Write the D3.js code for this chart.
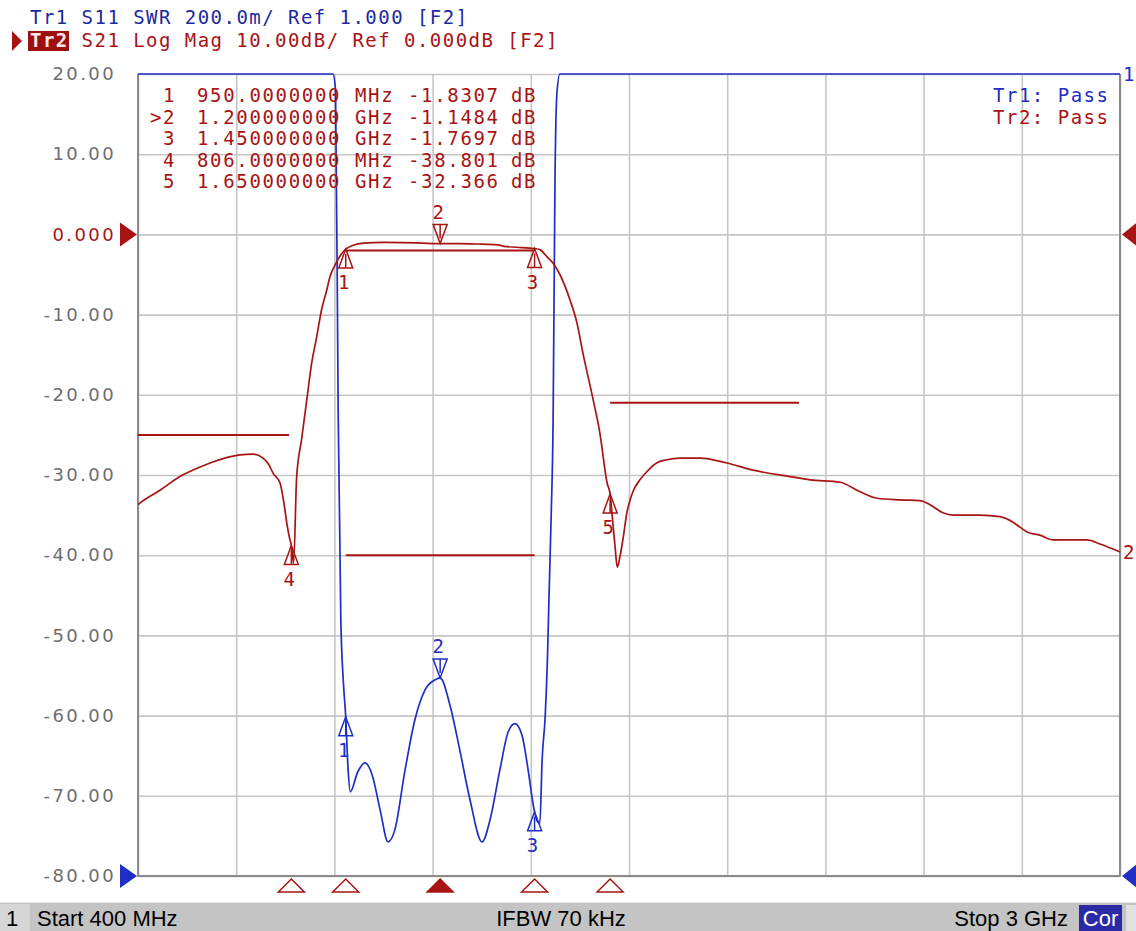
<!DOCTYPE html>
<html>
<head>
<meta charset="utf-8">
<script src="https://cdn.jsdelivr.net/npm/d3@7"></script>
<style>
  body { margin: 0; background: #fff; }
  svg { display: block; }
  .mono { font-family: 'DejaVu Sans Mono', monospace; }
</style>
</head>
<body>
<svg id="chart" width="1136" height="931"></svg>
<script>
// sweep and scale settings
const startMHz = 400
const stopMHz = 3000
const freqTicks = [400, 660, 920, 1180, 1440, 1700, 1960, 2220, 2480, 2740, 3000]
const dbTicks = [20, 10, 0, -10, -20, -30, -40, -50, -60, -70, -80]

// Tr2: S21 log mag (MHz, dB)
const s21Freq = [400, 405, 458, 511, 560, 591, 630, 670, 705, 731, 745, 758, 776, 785, 794, 800, 806, 812, 820,
  833, 847, 860, 873, 886, 900, 908, 922, 935, 950, 970, 996, 1050, 1100, 1150, 1200, 1250, 1300, 1353, 1370,
  1403, 1450, 1464, 1483, 1499, 1517, 1544, 1562, 1578, 1605, 1623, 1642, 1650, 1655, 1663, 1669, 1676, 1685,
  1694, 1703, 1712, 1729, 1747, 1773, 1800, 1835, 1888, 1959, 2029, 2126, 2180, 2259, 2312, 2357, 2418, 2470,
  2497, 2531, 2558, 2629, 2682, 2717, 2735, 2754, 2788, 2823, 2913, 2947, 3000]
const s21Db = [-33.7, -33.5, -31.9, -30.2, -29.1, -28.5, -27.9, -27.5, -27.4, -27.9, -28.6, -29.8, -31.0, -33.1,
  -36.0, -37.6, -38.8, -41.0, -30.3, -25.6, -20.6, -16.0, -12.8, -9.4, -6.9, -5.3, -3.8, -2.7, -1.83, -1.35, -1.1,
  -1.0, -1.02, -1.08, -1.148, -1.15, -1.2, -1.3, -1.5, -1.6, -1.77, -1.9, -2.8, -3.6, -5.0, -8.2, -11.0, -14.8,
  -20.6, -24.8, -31.0, -32.37, -34.8, -38.9, -41.5, -40.2, -37.7, -34.8, -33.1, -31.9, -30.6, -29.6, -28.5, -28.1,
  -27.9, -27.9, -28.5, -29.4, -30.2, -30.6, -30.9, -32.1, -32.9, -33.1, -33.2, -33.7, -34.7, -35.0, -35.0, -35.2,
  -35.9, -36.5, -37.1, -37.5, -38.1, -38.1, -38.6, -39.6]

// Tr1: S11 SWR (MHz, ratio) - values above 3 run off the top of the grid
const s11Freq = [400, 916, 923, 930, 937, 944, 950, 956, 962, 982, 1001, 1020, 1041, 1062, 1080, 1107, 1133,
  1160, 1186, 1200, 1226, 1252, 1279, 1311, 1332, 1358, 1380, 1398, 1417, 1433, 1446, 1450, 1458, 1464, 1470,
  1478, 1484, 1488, 1494, 1499, 1504, 1509, 1517, 3000]
const s11Swr = [9, 9, 2.96, 2.16, 1.64, 1.48, 1.397, 1.27, 1.21, 1.26, 1.282, 1.252, 1.165, 1.085, 1.115, 1.264,
  1.389, 1.464, 1.489, 1.494, 1.426, 1.314, 1.19, 1.085, 1.14, 1.264, 1.359, 1.38, 1.35, 1.264, 1.18, 1.16, 1.135,
  1.132, 1.29, 1.397, 1.539, 1.688, 1.9, 2.13, 2.73, 2.95, 9, 9]

// limit lines on Tr2
const limitStart = [400, 950, 950, 1650]
const limitStop = [800, 1450, 1450, 2150]
const limitDb = [-25, -2, -40, -21]

// markers
const markerFreq = [950, 1200, 1450, 806, 1650]
const markerS21 = [-1.8307, -1.1484, -1.7697, -38.801, -32.366]
const markerS11 = [1.397, 1.494, 1.16]
const activeMarker = 1

const RED = '#a81414'
const BLUE = '#1f2ec4'
const GRID = '#c6c6c6'
const plot = { left: 138, right: 1120, top: 74, bottom: 876 }
const pitch = 19 * 0.602 + 1.46  // monospace advance used in the header

const svg = d3.select('#chart')
const x = d3.scaleLinear().domain([startMHz, stopMHz]).range([plot.left, plot.right])
const yDb = d3.scaleLinear().domain([-80, 20]).range([plot.bottom, plot.top]).clamp(true)
const ySwr = d3.scaleLinear().domain([1, 3]).range([plot.bottom, plot.top]).clamp(true)

// header lines
const header = svg.append('g').attr('class', 'mono').attr('font-size', 19).attr('letter-spacing', 1.46)
header.append('text').attr('x', 30).attr('y', 24).attr('fill', '#1c2a9e')
  .text('Tr1 S11 SWR 200.0m/ Ref 1.000 [F2]')
header.append('path').attr('d', 'M12,31 L22,41 L12,51 Z').attr('fill', RED)
header.append('rect').attr('x', 28).attr('y', 31).attr('width', 41).attr('height', 20).attr('fill', '#9c1010')
header.append('text').attr('x', 30).attr('y', 47).attr('fill', '#ffe6e6').attr('font-weight', 'bold').text('Tr2')
header.append('text').attr('x', 30 + 4 * pitch).attr('y', 47).attr('fill', RED)
  .text('S21 Log Mag 10.00dB/ Ref 0.000dB [F2]')

// grid
const gridX = svg.append('g').attr('transform', `translate(0,${plot.bottom})`)
  .call(d3.axisBottom(x).tickValues(freqTicks).tickSize(-(plot.bottom - plot.top)).tickFormat(''))
const gridY = svg.append('g').attr('transform', `translate(${plot.left},0)`)
  .call(d3.axisLeft(yDb).tickValues(dbTicks).tickSize(-(plot.right - plot.left)).tickFormat(''))
for (const g of [gridX, gridY]) {
  g.select('.domain').remove()
  g.selectAll('.tick line').attr('stroke', GRID).attr('stroke-width', 1.6)
}

// frame
svg.append('path')
  .attr('d', `M${plot.left},${plot.top} V${plot.bottom} H${plot.right} V${plot.top}`)
  .attr('fill', 'none').attr('stroke', '#8a8a8a').attr('stroke-width', 2)

// y labels
const yLabels = svg.append('g').attr('transform', `translate(${plot.left},0)`)
  .call(d3.axisLeft(yDb).tickValues(dbTicks).tickSize(0).tickPadding(22)
    .tickFormat(d => d === 0 ? '0.000' : d.toFixed(2)))
yLabels.select('.domain').remove()
yLabels.selectAll('text')
  .attr('font-family', 'DejaVu Sans').attr('font-size', 18).attr('letter-spacing', 2.4)
  .attr('fill', d => d === 0 ? RED : '#6e6e6e')

// reference position arrows
const refArrows = [[yDb(0), RED], [ySwr(1), BLUE]]
for (const [yy, c] of refArrows) {
  svg.append('path').attr('d', `M${plot.left - 18},${yy - 12} L${plot.left - 1},${yy} L${plot.left - 18},${yy + 12} Z`).attr('fill', c)
  svg.append('path').attr('d', `M${plot.right + 2},${yy} L${plot.right + 17},${yy - 12} L${plot.right + 17},${yy + 12} Z`).attr('fill', c)
}

// limit lines
limitDb.forEach((db, i) => {
  svg.append('line')
    .attr('x1', x(limitStart[i])).attr('x2', x(limitStop[i]))
    .attr('y1', yDb(db)).attr('y2', yDb(db))
    .attr('stroke', RED).attr('stroke-width', 2)
})

// traces
const s11 = s11Freq.map((f, i) => [f, s11Swr[i]])
const s21 = s21Freq.map((f, i) => [f, s21Db[i]])
svg.append('path').datum(s11)
  .attr('d', d3.line().x(d => x(d[0])).y(d => ySwr(d[1])).curve(d3.curveMonotoneX))
  .attr('fill', 'none').attr('stroke', BLUE).attr('stroke-width', 1.7)
svg.append('path').datum(s21)
  .attr('d', d3.line().x(d => x(d[0])).y(d => yDb(d[1])).curve(d3.curveMonotoneX))
  .attr('fill', 'none').attr('stroke', RED).attr('stroke-width', 1.7)

// trace markers: active one sits above the trace, others below
function drawMarker (px, py, label, color, above) {
  const g = svg.append('g').attr('transform', `translate(${px},${py})`)
  const s = above ? -1 : 1
  g.append('path').attr('d', `M0,0 L-7,${s * 19} L7,${s * 19} Z M0,${s * 5} V${s * 19}`)
    .attr('fill', 'none').attr('stroke', color).attr('stroke-width', 1.5)
  g.append('text').attr('class', 'mono').attr('font-size', 19).attr('fill', color)
    .attr('text-anchor', 'middle').attr('x', -2).attr('y', above ? -25 : 40).text(label)
}
markerFreq.forEach((f, i) => drawMarker(x(f), yDb(markerS21[i]), i + 1, RED, i === activeMarker))
markerS11.forEach((v, i) => drawMarker(x(markerFreq[i]), ySwr(v), i + 1, BLUE, i === activeMarker))

// stimulus markers below the grid
markerFreq.forEach((f, i) => {
  svg.append('path')
    .attr('d', `M${x(f)},${plot.bottom + 3} L${x(f) - 13},${plot.bottom + 16} L${x(f) + 13},${plot.bottom + 16} Z`)
    .attr('fill', i === activeMarker ? RED : 'none').attr('stroke', RED).attr('stroke-width', 1.5)
})

// marker table
const table = svg.append('g').attr('class', 'mono').attr('font-size', 19).attr('letter-spacing', 1.66).attr('fill', RED)
markerFreq.forEach((f, i) => {
  const yy = 102 + i * 21.6
  const freqText = f < 1000 ? f.toFixed(7) : (f / 1000).toFixed(9)
  table.append('text').attr('x', 150).attr('y', yy).attr('xml:space', 'preserve')
    .text((i === activeMarker ? '>' : ' ') + (i + 1))
  table.append('text').attr('x', 197).attr('y', yy).text(freqText)
  table.append('text').attr('x', 355).attr('y', yy).text(f < 1000 ? 'MHz' : 'GHz')
  table.append('text').attr('x', 408).attr('y', yy).text(markerS21[i].toPrecision(5))
  table.append('text').attr('x', 511).attr('y', yy).text('dB')
})

// limit test result
const pass = svg.append('g').attr('class', 'mono').attr('font-size', 19).attr('letter-spacing', 1.5)
pass.append('text').attr('x', 993).attr('y', 102).attr('fill', BLUE).text('Tr1: Pass')
pass.append('text').attr('x', 993).attr('y', 124).attr('fill', RED).text('Tr2: Pass')

// trace end labels at the right edge
const ends = svg.append('g').attr('class', 'mono').attr('font-size', 19)
ends.append('text').attr('x', plot.right + 3).attr('y', ySwr(s11Swr[s11Swr.length - 1]) + 7).attr('fill', BLUE).text('1')
ends.append('text').attr('x', plot.right + 3).attr('y', yDb(s21Db[s21Db.length - 1]) + 7).attr('fill', RED).text('2')

// status bar
const bar = svg.append('g').attr('font-family', "'Liberation Sans Narrow', 'Arial Narrow', sans-serif").attr('font-size', 22)
bar.append('rect').attr('x', 0).attr('y', 902).attr('width', 1136).attr('height', 29).attr('fill', '#c4c4c4')
bar.append('line').attr('x1', 0).attr('x2', 1136).attr('y1', 902.5).attr('y2', 902.5).attr('stroke', '#e4e4e4')
bar.append('rect').attr('x', 0).attr('y', 904).attr('width', 30).attr('height', 27).attr('fill', '#d6d6d6')
bar.append('text').attr('x', 6).attr('y', 926).text('1')
bar.append('text').attr('x', 37).attr('y', 926).text('Start 400 MHz')
bar.append('text').attr('x', 561).attr('y', 926).attr('text-anchor', 'middle').text('IFBW 70 kHz')
bar.append('text').attr('x', 1068).attr('y', 926).attr('text-anchor', 'end').text('Stop 3 GHz')
bar.append('rect').attr('x', 1079).attr('y', 905).attr('width', 43).attr('height', 26).attr('fill', '#2a2aa6')
bar.append('text').attr('x', 1100.5).attr('y', 926).attr('text-anchor', 'middle').attr('fill', '#fff').text('Cor')
bar.append('rect').attr('x', 1126).attr('y', 905).attr('width', 10).attr('height', 26).attr('fill', '#e2e2e2')
</script>
</body>
</html>
